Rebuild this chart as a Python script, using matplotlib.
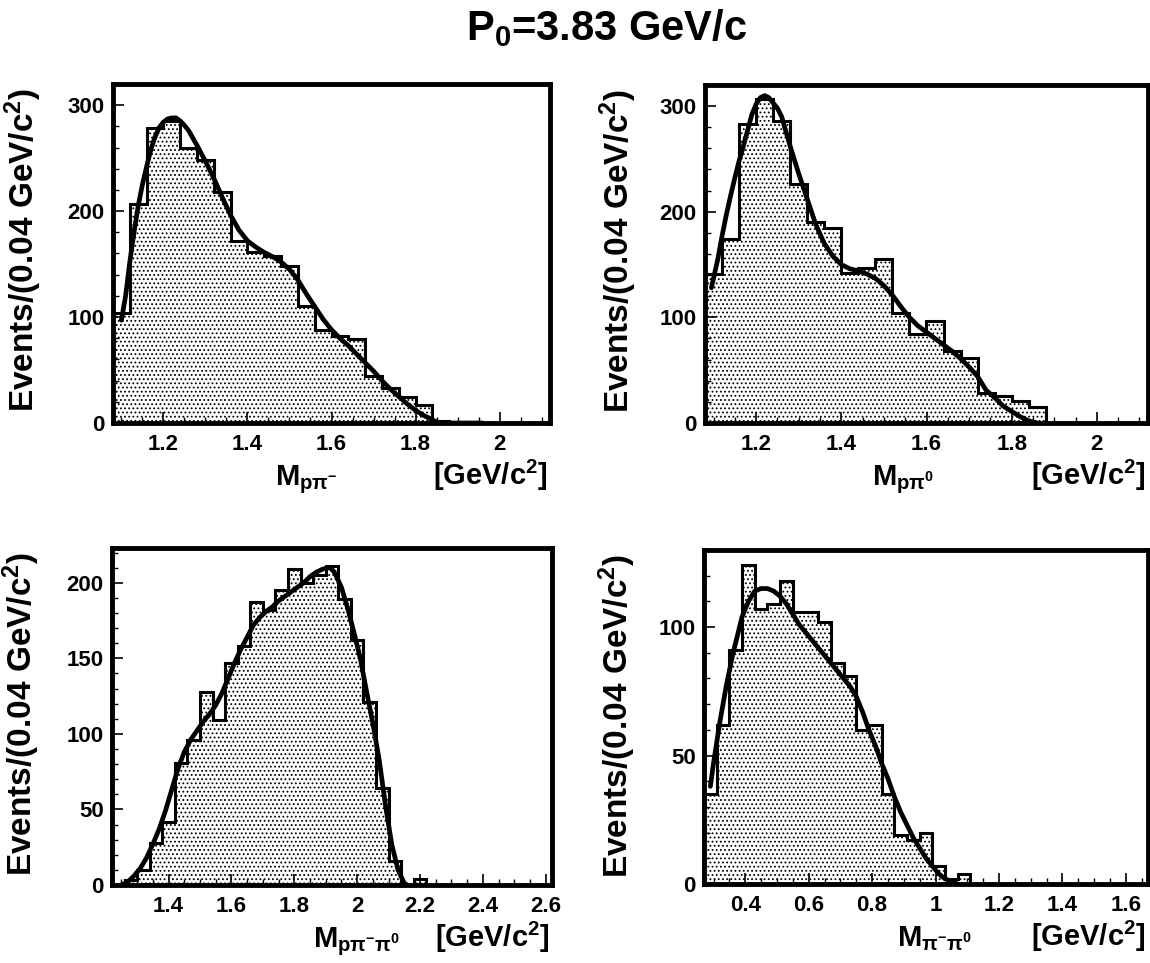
import matplotlib
matplotlib.use("Agg")
import matplotlib.pyplot as plt
from matplotlib.ticker import MultipleLocator, FuncFormatter

#字体设置
plt.rcParams['font.family'] = ['Liberation Sans', 'DejaVu Sans']
plt.rcParams['font.weight'] = 'bold'
plt.rcParams['axes.labelweight'] = 'bold'
plt.rcParams['mathtext.fontset'] = 'custom'
plt.rcParams['mathtext.rm'] = 'Liberation Sans:bold'
plt.rcParams['mathtext.it'] = 'Liberation Sans:bold'
plt.rcParams['mathtext.bf'] = 'Liberation Sans:bold'
plt.rcParams['mathtext.default'] = 'rm'
plt.rcParams['hatch.linewidth'] = 0.8

#数据 (bin width 0.04 GeV/c^2)
bin_width = 0.04

# M(p pi-)
ppim_start = 1.08
ppim_counts = [104, 207, 278, 285, 260, 248, 218, 172, 161, 158, 148, 110, 88,
               82, 79, 44, 33, 25, 17, 2, 0, 0, 0, 0, 0, 0]
ppim_fit_x = [1.10, 1.11, 1.12, 1.13, 1.14, 1.15, 1.16, 1.17, 1.18, 1.19, 1.20,
              1.21, 1.22, 1.23, 1.24, 1.25, 1.26, 1.28, 1.30, 1.32, 1.34, 1.36,
              1.38, 1.40, 1.42, 1.44, 1.46, 1.48, 1.50, 1.52, 1.54, 1.56, 1.58,
              1.60, 1.62, 1.64, 1.66, 1.68, 1.70, 1.72, 1.74, 1.76, 1.78, 1.80,
              1.82, 1.84, 1.85, 1.86, 1.96]
ppim_fit_y = [97, 120, 152, 180, 205, 225, 242, 258, 270, 279, 284,
              287, 288, 288, 285, 281, 276, 262, 247, 231, 213, 196,
              182, 172, 166, 161, 157, 152, 145, 135, 122, 110, 98,
              88, 80, 73, 65, 57, 49, 40, 32, 25, 18, 12,
              7, 3, 1, 0, 0]

# M(p pi0)
ppi0_start = 1.08
ppi0_counts = [141, 174, 283, 307, 286, 226, 190, 185, 142, 147, 155, 104, 84,
               97, 68, 62, 28, 26, 21, 15, 0, 0, 0, 0, 0, 0]
ppi0_fit_x = [1.095, 1.11, 1.12, 1.13, 1.14, 1.15, 1.16, 1.17, 1.18, 1.19, 1.20,
              1.21, 1.22, 1.23, 1.24, 1.25, 1.26, 1.27, 1.28, 1.30, 1.32, 1.34,
              1.36, 1.38, 1.40, 1.42, 1.44, 1.46, 1.48, 1.50, 1.52, 1.54, 1.56,
              1.58, 1.60, 1.62, 1.64, 1.66, 1.68, 1.70, 1.72, 1.74, 1.76, 1.78,
              1.80, 1.82, 1.84, 1.86]
ppi0_fit_y = [128, 155, 177, 197, 215, 232, 248, 262, 277, 292, 302,
              308, 310, 308, 303, 298, 290, 276, 262, 236, 212, 188,
              170, 158, 150, 146, 144, 141, 137, 130, 121, 110, 100,
              92, 86, 80, 74, 68, 61, 53, 44, 31, 24, 16,
              11, 6, 2, 0]

# M(p pi- pi0)
ppimpi0_start = 1.22
ppimpi0_counts = [0, 3, 10, 28, 42, 81, 96, 128, 109, 147, 158, 187, 182, 195,
                  209, 200, 205, 211, 189, 162, 121, 64, 16, 0, 4,
                  0, 0, 0, 0, 0, 0, 0, 0, 0, 0]
ppimpi0_fit_x = [1.25, 1.27, 1.29, 1.31, 1.33, 1.35, 1.37, 1.39, 1.41, 1.43,
                 1.45, 1.47, 1.49, 1.51, 1.53, 1.55, 1.57, 1.59, 1.61, 1.63,
                 1.65, 1.67, 1.69, 1.71, 1.73, 1.75, 1.77, 1.79, 1.81, 1.83,
                 1.85, 1.87, 1.89, 1.91, 1.92, 1.93, 1.95, 1.97, 1.99, 2.01,
                 2.03, 2.05, 2.07, 2.08, 2.09, 2.11, 2.13, 2.15, 2.16]
ppimpi0_fit_y = [0, 2, 6, 11, 18, 27, 37, 49, 63, 77,
                 88, 96, 102, 108, 113, 119, 127, 137, 147, 156,
                 164, 172, 177, 181, 184, 188, 191, 194, 197, 200,
                 204, 207, 209, 210, 209, 206, 197, 183, 167, 150,
                 128, 107, 83, 68, 53, 27, 10, 1, 0]

# M(pi- pi0)
pimpi0_start = 0.27
pimpi0_counts = [35, 62, 91, 124, 107, 109, 118, 106, 106, 102, 86, 81, 60, 62,
                 35, 19, 17, 20, 7, 2, 4,
                 0, 0, 0, 0, 0, 0, 0, 0, 0, 0, 0, 0, 0, 0]
pimpi0_fit_x = [0.29, 0.30, 0.31, 0.32, 0.33, 0.34, 0.35, 0.36, 0.37, 0.38,
                0.39, 0.40, 0.41, 0.42, 0.43, 0.45, 0.47, 0.49, 0.51, 0.53,
                0.55, 0.57, 0.59, 0.61, 0.63, 0.65, 0.67, 0.69, 0.71, 0.73,
                0.75, 0.77, 0.79, 0.81, 0.83, 0.85, 0.87, 0.89, 0.91, 0.93,
                0.95, 0.97, 0.99, 1.01, 1.03, 1.05, 1.07]
pimpi0_fit_y = [38, 47, 55, 63, 70, 77, 83, 89, 94, 99,
                104, 107, 110, 112, 114, 115, 115, 114, 112, 109,
                105, 101, 98, 95, 92, 89, 86, 83, 80, 77,
                73, 67, 60, 54, 47, 41, 34, 28, 23, 18,
                14, 10, 7, 4, 2, 1, 0]

#绘图
fig = plt.figure(figsize=(11.5, 9.63), dpi=100)
W, H = 1150, 963


def add_axes_px(left, top, right, bottom):
    return fig.add_axes([left / W, 1 - bottom / H, (right - left) / W, (bottom - top) / H])


def draw_panel(ax, start, counts, fit_x, fit_y, xlim, ylim, ymajor, yminor, name, name_pos, ylab_x):
    edges = [start + bin_width * i for i in range(len(counts) + 1)]
    ax.stairs(counts, edges, fill=True, facecolor='white', edgecolor='black',
              hatch='....', linewidth=0, zorder=1)
    ax.stairs(counts, edges, color='black', linewidth=2.2, zorder=2)
    ax.plot(fit_x, fit_y, color='black', linewidth=3.4, solid_joinstyle='round',
            solid_capstyle='round', zorder=3)

    ax.set_xlim(*xlim)
    ax.set_ylim(*ylim)
    ax.xaxis.set_major_locator(MultipleLocator(0.2))
    ax.xaxis.set_minor_locator(MultipleLocator(0.05))
    ax.yaxis.set_major_locator(MultipleLocator(ymajor))
    ax.yaxis.set_minor_locator(MultipleLocator(yminor))
    ax.xaxis.set_major_formatter(FuncFormatter(lambda v, p: f"{v:g}"))
    ax.yaxis.set_major_formatter(FuncFormatter(lambda v, p: f"{v:g}"))
    ax.tick_params(which='both', direction='in', top=False, right=False, labelsize=16)
    ax.tick_params(which='major', length=8, width=1.2)
    ax.tick_params(which='minor', length=4, width=1.0)
    ax.tick_params(axis='y', pad=6)
    ax.tick_params(axis='x', pad=8)
    for sp in ax.spines.values():
        sp.set_linewidth(3.5)
        sp.set_zorder(5)

    ax.set_ylabel(r"Events/(0.04 GeV/c$^2$)", fontsize=24, loc='top')
    ax.yaxis.set_label_coords(ylab_x, 0.99)

    hgt = ax.get_position().height * H
    ax.text(name_pos, -62 / hgt, name, transform=ax.transAxes, fontsize=21,
            ha='left', va='baseline')
    ax.text(0.995, -62 / hgt, r"[GeV/c$^2$]", transform=ax.transAxes, fontsize=21,
            ha='right', va='baseline')


ax1 = add_axes_px(113, 84, 550, 423)
draw_panel(ax1, ppim_start, ppim_counts, ppim_fit_x, ppim_fit_y, (1.08, 2.12), (0, 320),
           100, 20, r"M$_{p\pi^{-}}$", 0.371, -0.158)

ax2 = add_axes_px(705, 85, 1148, 423)
draw_panel(ax2, ppi0_start, ppi0_counts, ppi0_fit_x, ppi0_fit_y, (1.08, 2.12), (0, 320),
           100, 20, r"M$_{p\pi^{0}}$", 0.377, -0.149)

ax3 = add_axes_px(112, 548, 552, 885)
draw_panel(ax3, ppimpi0_start, ppimpi0_counts, ppimpi0_fit_x, ppimpi0_fit_y, (1.22, 2.62), (0, 223),
           50, 10, r"M$_{p\pi^{-}\pi^{0}}$", 0.457, -0.158)

ax4 = add_axes_px(704, 550, 1148, 884)
draw_panel(ax4, pimpi0_start, pimpi0_counts, pimpi0_fit_x, pimpi0_fit_y, (0.27, 1.67), (0, 130),
           50, 10, r"M$_{\pi^{-}\pi^{0}}$", 0.435, -0.149)

fig.text(607 / W, 1 - 40 / H, r"P$_0$=3.83 GeV/c", fontsize=30, ha='center', va='baseline')

plt.savefig("out.png", dpi=100)
